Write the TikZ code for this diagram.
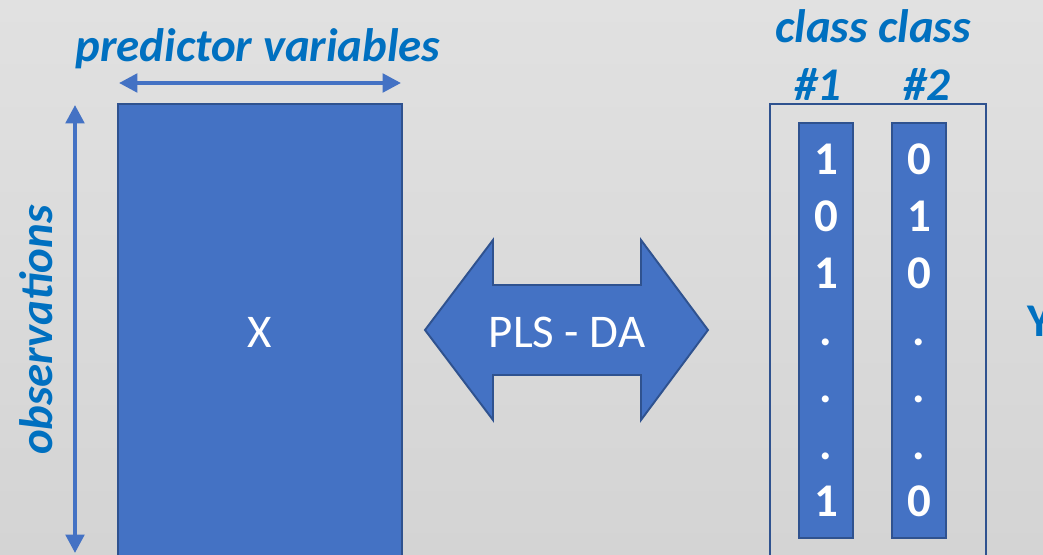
\documentclass[tikz,border=0pt]{standalone}
\usepackage{fontspec}
\setmainfont{Carlito}
\usetikzlibrary{arrows.meta}
\definecolor{cFill}{RGB}{68,114,196}
\definecolor{cEdge}{RGB}{47,82,143}
\definecolor{cText}{RGB}{0,112,192}
\definecolor{cBgTop}{RGB}{225,225,225}
\definecolor{cBgBot}{RGB}{212,212,212}
\newcommand{\bigfont}{\fontsize{26.7}{32.4}\selectfont}

\begin{document}
\begin{tikzpicture}[x=0.02cm,y=-0.02cm,
  lbl/.style={font=\bigfont\bfseries\itshape,text=cText,inner sep=0pt,anchor=base},
  dim/.style={cFill,line width=2.3pt,{Triangle[length=10.5pt,width=10.5pt]}-{Triangle[length=10.5pt,width=10.5pt]}},
  colbox/.style={draw=cEdge,fill=cFill,line width=1.1pt,minimum width=1.08cm,minimum height=8.3cm,inner sep=0pt},
  cell/.style={font=\bigfont\bfseries,text=white,inner sep=0pt,anchor=base}]
\useasboundingbox (0,0) rectangle (1043,554);
\shade[top color=cBgTop,bottom color=cBgBot] (0,0) rectangle (1043,554);
% X block
\node[draw=cEdge,fill=cFill,line width=1.1pt,minimum width=5.68cm,minimum height=9.12cm,
  text=white,font=\bigfont] (X) at (260,332) {X};
\coordinate (pvL) at (119,83);
\coordinate (pvR) at (401,83);
\coordinate (obT) at (75,105);
\coordinate (obB) at (75,553);
\draw[dim] (pvL) -- (pvR);
\draw[dim] (obT) -- (obB);
\node[lbl] (pv) at (258,62) {predictor variables};
\node[lbl,rotate=90] (obs) at (52,330) {observations};
% PLS-DA arrow
\draw[cEdge,fill=cFill,line width=1.1pt] (425,330) -- (493,240) -- (493,285) -- (641,285)
  -- (641,240) -- (708,330) -- (641,420) -- (641,375) -- (493,375) -- (493,420) -- cycle;
\node[font=\bigfont,text=white,inner sep=0pt,anchor=base] (pls) at (567,347) {PLS - DA};
% Y block
\node[draw=cEdge,line width=1.1pt,minimum width=4.32cm,minimum height=9.12cm] (Ybox) at (878,332) {};
\node[colbox] (c1) at (826,330.5) {};
\node[colbox] (c2) at (919,330.5) {};
\foreach \v [count=\i] in {1,0,1,.,.,.,1}
  \node[cell] (a\i) at (826,{117+57*\i}) {\v};
\foreach \v [count=\i] in {0,1,0,.,.,.,0}
  \node[cell] (b\i) at (919,{117+57*\i}) {\v};
\node[lbl] (cls) at (873,43) {class class};
\node[lbl] (n1) at (818,100) {\#1};
\node[lbl] (n2) at (927,100) {\#2};
\node[lbl,font=\bigfont\bfseries,anchor=base west] (ylab) at (1027,336) {Y};
\end{tikzpicture}
\end{document}
